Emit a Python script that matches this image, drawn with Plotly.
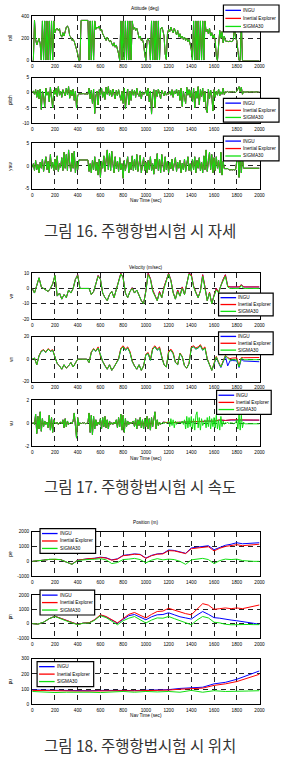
import plotly.graph_objects as go

W, H = 286, 772

# ---------------- time grids (sampling of the logged data) ----------------
t10 = list(range(0, 2001, 10))
t20 = list(range(0, 2001, 20))
t50 = list(range(0, 2001, 50))
t100 = list(range(0, 2001, 100))
x_ticks = list(range(0, 2001, 200))

series_names = ["INGU", "Inertial Explorer", "SIGMA30"]
series_colors = ["#0000ff", "#ff0000", "#11e011"]

# ---------------- Fig 16: attitude (deg), step 10 s ----------------
roll_sigma = [
    0, 0, 360, 190, 140, 180, 200, 150, 5, 355,
    5, 355, 5, 355, 5, 355, 5, 355, 5, 355,
    250, 280, 290, 270, 285, 230, 210, 250, 220, 260,
    300, 310, 290, 220, 210, 180, 190, 170, 120, 100,
    60, 0, 0, 360, 360, 360, 360, 360, 360, 360,
    5, 355, 5, 355, 5, 355, 280, 300, 290, 310,
    270, 280, 240, 210, 200, 180, 210, 190, 170, 180,
    150, 130, 160, 120, 140, 110, 60, 0, 355, 5,
    355, 5, 355, 5, 355, 5, 355, 5, 355, 280,
    300, 270, 290, 250, 200, 220, 180, 190, 150, 60,
    0, 180, 200, 170, 5, 355, 5, 355, 5, 355,
    5, 355, 5, 280, 300, 270, 220, 60, 10, 240,
    280, 260, 300, 270, 250, 290, 260, 230, 270, 210,
    240, 200, 220, 190, 210, 180, 200, 170, 190, 150,
    100, 5, 355, 5, 355, 5, 355, 5, 355, 5,
    355, 5, 355, 260, 280, 240, 290, 220, 250, 200,
    230, 180, 40, 0, 150, 270, 200, 260, 160, 220,
    175, 170, 172, 170, 175, 170, 172, 190, 300, 200,
    180, 90, 0, 0, 360, 0, 0, 0, 0, 0,
    0, 0, 0, 0, 0, 0, 0, 0, 0, 0,
    0,
]
pitch_sigma = [
    0.2, 0.5, -0.5, 1.0, -1.5, 0.8, -2.0, 1.2, -5.5, 0.5,
    -1.0, -4.8, 1.5, -0.8, 0.3, -3.0, 1.8, -1.2, -5.0, 0.8,
    -0.5, 1.5, -1.2, 2.0, -0.8, 0.5, -1.5, 1.0, -0.3, -1.0,
    1.5, -0.6, 2.0, -1.8, 0.8, -1.0, 1.2, -2.5, 0.5, -5.0,
    -1.0, -0.3, -0.4, -0.3, -0.4, -0.3, -0.4, -0.3, -0.4, -0.5,
    1.5, -2.0, 0.8, -3.5, 1.2, -6.8, -1.0, 0.5, -4.0, 1.0,
    -0.8, 1.5, -1.5, 0.3, -2.2, 1.8, -0.5, 2.0, -1.0, 0.8,
    -1.2, 1.2, -0.5, -2.0, 0.8, -1.0, 1.0, -0.8, -2.5, 0.5,
    -3.5, 1.5, -5.2, -1.0, 1.2, -4.0, 0.5, -2.5, 1.0, -0.8,
    0.8, -1.5, 1.5, -0.5, -1.2, 0.6, -2.0, 0.3, -0.5, -0.3,
    0.8, -1.0, 1.5, -3.0, 0.5, -7.0, -0.5, 1.0, -5.0, 0.8,
    -1.2, 1.2, -0.6, -2.0, 0.8, -0.5, -1.0, 0.5, -0.8, -0.3,
    -0.5, 0.5, -0.8, 1.0, -1.5, 0.6, -0.4, 1.2, -1.0, 0.8,
    -2.5, 1.5, -4.5, 0.5, -1.5, -3.5, 1.8, -0.8, 1.0, -1.5,
    0.8, -3.0, 1.5, -5.0, 0.5, -1.8, 2.0, -4.0, 1.0, -1.2,
    1.5, -3.0, 0.5, -5.5, -6.5, 1.2, -2.0, 0.8, -1.0, -6.0,
    1.0, -1.5, 0.5, -0.8, 1.2, -1.0, 0.3, -0.5, 1.5, -0.6,
    0.3, 0.2, 0.4, 0.1, 0.3, 0.2, 0.4, 0.2, 0.3, 0.1,
    0.5, 1.5, 2.0, 0.3, 1.8, -0.5, 0.4, 0.2, 0.3, 0.2,
    0.3, 0.2, 0.3, 0.2, 0.3, 0.2, 0.3, 0.2, 0.3, 0.2, 0.3,
]
yaw_sigma = [
    -0.3, 0.5, -1.0, 1.2, -0.8, 0.3, -1.5, 0.8, -0.5, 1.5,
    -1.2, 0.5, 2.0, -0.8, 1.0, -1.5, 2.5, -0.5, 0.8, -1.0,
    1.5, -0.8, 2.2, -1.2, 0.6, -0.3, 1.8, -1.0, 3.0, -0.5,
    2.5, -1.0, 3.5, 0.5, -1.2, 2.8, -0.5, 3.2, -1.5, 1.0,
    -0.8, 1.3, 1.3, 1.3, 1.3, 1.3, 1.3, 1.3, 1.3, 1.3,
    -1.2, 0.5, -1.5, 1.2, -0.8, 2.0, -1.0, 0.8, -2.0, 1.5,
    -2.5, 1.0, -0.5, 2.2, -1.2, 1.5, 3.5, -0.8, 2.8, -1.0,
    3.2, 0.5, -1.5, 2.0, -0.6, 1.0, -1.2, 1.8, -0.8, 0.5,
    -2.7, 1.2, -1.0, 0.5, 2.0, -1.5, 0.8, -0.8, 2.2, -1.0,
    1.5, -0.8, 2.5, -1.2, 1.0, 2.3, -1.5, 0.6, 1.8, -1.0,
    0.8, -1.5, 1.2, -0.8, 2.0, -1.0, 0.5, -1.8, 1.5, -0.6,
    2.7, -1.0, 1.5, -1.5, 2.5, 0.3, -1.2, 2.0, -0.8, 1.0,
    -1.5, 0.8, -0.6, 1.5, -1.0, 0.5, 1.8, -1.2, 0.8, -0.5,
    1.2, -1.5, 0.6, -0.8, 1.5, -1.2, 0.8, 2.0, -1.0, 0.5,
    -1.2, 1.5, -0.8, 2.0, -1.5, 1.2, -0.5, 1.8, -1.0, 0.8,
    -1.5, 2.2, -0.8, 3.5, -1.2, 1.5, 3.0, -0.8, 2.5, -1.5,
    1.8, -1.0, 2.0, -0.5, 1.2, -1.5, 3.0, -2.0, 1.0, -0.6,
    -0.6, -0.5, -0.6, -0.8, -0.9, -0.8, -0.9, -0.8, -0.9, -0.8,
    1.5, 3.0, -2.5, 2.5, -1.5, 1.8, -0.5, -0.5, -0.5, -0.5,
    -0.5, -0.5, -0.5, -0.5, -0.5, -0.5, -0.5, -0.5, -0.5, -0.5, -0.5,
]
# the three solutions overlap in attitude
roll_ingu, roll_ie = roll_sigma, roll_sigma
pitch_ingu, pitch_ie = pitch_sigma, pitch_sigma
yaw_ingu, yaw_ie = yaw_sigma, yaw_sigma

# ---------------- Fig 17: velocity (m/s) ----------------
ve_sigma = [  # step 20 s
    0, -3, 2, 7, 1, 0, -1, -2, 0, 3,
    8.5, -5, -3, -7, -4, -6, -1, -3, 0, 6,
    8.5, 0, 0, 0, 0, 0, -4, -2, 3, 8,
    6, -3, -6, -8, -4, -2, -6, -1, 4, 9.5,
    7, -3, -6, -2, 0, -3, -1, -5, -8, -10,
    -2, 9, 6, -2, -5, -8, -3, -6, 0, 5,
    9.5, 5, -3, -7, -2, -5, 0, -4, 2, 9.5,
    8, 1, -3, -6, -2, 8, 0, -8, -3, -10,
    -5, -1, -3, 2, 5, 8, 1, 0, 0, 0,
    0, 0, 2, 0, 0, 0, 0, 0, 0, 0,
    0,
]
ve_ie = [
    0, -3, 2, 7, 1, 0, -1, -2, 0, 3,
    8.5, -5, -3, -7, -4, -6, -1, -3, 0, 6,
    9, 0, 0, 0, 0, 0, -4, -2, 3, 8.5,
    6, -3, -6, -8, -4, -2, -6, -1, 4.5, 10,
    7, -3, -6, -2, 0.5, -3, -1, -5, -8, -10,
    -1.5, 10, 6.5, -1, -5, -8, -2, -6, 1, 5.5,
    10, 5.5, -2.5, -7, -1, -5, 1, -4, 2.5, 10,
    9, 1.5, -2.5, -6, -1.5, 9, 1, -8, -2.5, -10,
    -4.5, 0, -2.5, 2.5, 6, 9, 1.5, 1, 1, 1,
    1, 1, 2.5, 1, 1, 1, 1, 1, 1, 1,
    1,
]
ve_ingu = ve_ie

vn_sigma = [  # step 20 s
    0, 1, -5, 3, 7, 8, 6, 9, 7, 8,
    2, -4, -6, -9, -5, -8, -6, -3, -7, -4,
    0, 0, 0, 0, 0, -3, 6, 9, 7, 10,
    3, -2, -6, -9, -5, -10, -7, -3, 0, 9,
    11, 8, 10, 6, -2, -6, -9, -5, -10, -6,
    4, 5, -1, 9, 11, 8, 10, 2, -5, -7,
    6, 8, 5, -3, -5, 5, 2, -6, -8, -4,
    10, 11, 9, 10, 12, 8, 10, 0, -6, -10,
    -4, 2, -3, -7, -2, 3, 1, -1, -0.5, -0.3,
    -0.5, -7, 1, -0.5, -0.5, -0.5, -0.5, -0.5, -0.5, -0.5,
    -0.5,
]
vn_ie = [
    0, 1, -5, 3, 7.5, 8.5, 6.5, 9.5, 7.5, 8.5,
    2, -4, -6, -9, -5, -8, -6, -3, -7, -4,
    0, 0, 0, 0, 0, -3, 6.5, 9.5, 7.5, 11,
    3, -2, -6, -9, -5, -10, -7, -3, 0.5, 10,
    12, 9, 11, 7, -1.5, -6, -9, -5, -10, -6,
    4.5, 6, -0.5, 10, 12, 9, 11, 2.5, -5, -7,
    7, 9, 6, -2.5, -5, 5.5, 2.5, -6, -8, -3.5,
    11, 12, 10, 11, 13, 9, 11, 0.5, -5.5, -10,
    -3.5, 2.5, -2.5, -7, -1.5, 3.5, 1.5, 0.5, 1, 1.2,
    1.2, -6, 1.5, 1.3, 1.3, 1.4, 1.4, 1.5, 1.5, 1.5,
    1.5,
]
vn_ingu_tail = [  # t = 1600 .. 2000, step 20 s
    -4.5, 1.5, -3.5, -7.5, -2.5, 2.5, -6, -1.5, -1.2, -1.3,
    -1.5, -7.5, 0, -1.6, -1.7, -1.8, -1.9, -2.0, -2.1, -2.2,
    -2.3,
]
vn_ingu = vn_sigma[:80] + vn_ingu_tail

vu_sigma = [  # step 10 s
    0, 0.05, -0.1, 0.8, -0.9, 0.6, -0.5, 1.0, -0.7, 0.4,
    -0.3, 0.2, -0.1, 0.1, -0.4, 0.7, -0.6, 0.5, -0.8, 0.3,
    0.05, -0.05, 0.1, -0.1, 0.05, 0.1, -0.05, 0.3, -0.4, 0.4,
    -0.3, 0.2, -0.1, 0.05, 0.1, -0.05, 0.2, 0.9, -0.6, -1.3,
    0.5, -0.2, 0.05, -0.05, 0.05, 0, 0.05, -0.05, 0, 0.05,
    0.9, -0.8, 0.7, -1.0, 0.6, -0.5, 0.3, -0.2, 0.1, -0.1,
    0.4, -0.5, 0.5, -0.3, 0.6, -0.4, 0.3, -0.5, 0.2, -0.1,
    0.05, -0.1, 0.1, -0.05, 0.3, -0.4, 0.5, -0.3, 0.8, -0.6,
    0.7, -0.8, 0.4, -0.3, 0.2, -0.1, 0.1, -0.05, 0.1, 0.2,
    -0.3, 0.4, -0.5, 0.3, -0.2, 0.5, -0.4, 0.3, -0.5, 0.4,
    -0.3, 0.6, -0.5, 0.4, -0.6, 0.5, -0.3, 0.4, 1.0, -0.5,
    0.3, -0.2, 0.1, -0.1, 0.05, 0.1, -0.05, 0.1, 0, 0.05,
    0.2, -0.3, 0.4, -0.2, 0.3, -0.4, 0.2, -0.1, 0.1, 0.05,
    0.1, 0, 0.2, -0.1, 0.3, -0.5, 0.6, -0.4, 0.5, -0.3,
    0.6, -0.5, 0.4, -0.6, 0.7, 1.0, -0.4, 0.5, -0.6, 0.4,
    -0.2, 0.1, 0.3, -0.4, 0.5, -0.3, 0.6, -0.5, 0.4, -0.3,
    0.5, -0.4, 0.7, -0.5, 0.3, -0.6, 0.6, -0.3, 0.2, -0.1,
    0.05, 0, 0.1, -0.05, 0.05, 0, 0.05, -0.05, 0, 0.05,
    0.3, -0.5, 0.8, -0.6, 0.7, -0.4, 0.1, -0.05, -0.05, -0.05,
    -0.05, -0.05, -0.05, -0.05, -0.05, -0.05, -0.05, -0.05, -0.05, -0.05, -0.05,
]
vu_drift_t = [1200, 1250, 1300, 1350, 1400, 1450, 1500, 1550, 1600,
              1650, 1700, 1750, 1800, 1850, 1900, 1950, 2000]
vu_ie_tail = [0.05, 0.06, 0.08, 0.1, 0.12, 0.15, 0.17, 0.2, 0.18,
              0.3, 0.25, 0.3, 0.28, 0.26, 0.3, 0.28, 0.28]
vu_ingu_tail = [0.04, 0.05, 0.07, 0.09, 0.11, 0.14, 0.16, 0.19, 0.17,
                0.27, 0.24, 0.28, 0.27, 0.25, 0.28, 0.27, 0.27]
vu_t_drift = t10[:116] + vu_drift_t
vu_ie = vu_sigma[:116] + vu_ie_tail
vu_ingu = vu_sigma[:116] + vu_ingu_tail

# ---------------- Fig 18: position (m), step 50 s / 100 s ----------------
pe_ingu = [
    0, 20, 80, 130, 150, 120, -50, -190, 80, 150,
    180, 210, 280, 240, 100, 170, 400, 450, 500, 470,
    220, 400, 500, 530, 760, 730, 620, 540, 900, 950,
    1000, 1050, 780, 950, 1080, 1150, 1250, 1180, 1200, 1230,
    1250,
]
pe_ie = [
    0, 20, 80, 130, 150, 120, -50, -190, 80, 150,
    180, 200, 260, 220, 80, 150, 380, 420, 480, 450,
    200, 380, 480, 500, 720, 700, 600, 520, 850, 900,
    950, 980, 700, 880, 1000, 1050, 1120, 1050, 1080, 1120,
    1150,
]
pe_sigma = [
    0, 20, 80, 130, 150, 110, -60, -200, 60, 120,
    130, 140, 180, 100, -150, -80, 120, 150, 200, 120,
    -100, 80, 180, 100, 150, 120, 0, -200, 100, 150,
    200, 120, -150, 50, 150, 120, 150, 50, 0, 0,
    0,
]
pn_ingu = [
    0, -40, 100, 350, 520, 380, 200, 60, -60, 40,
    60, 270, 600, 470, 270, 30, 300, 560, 640, 450,
    270, 480, 620, 640, 760, 620, 480, 400, 320, 600,
    850, 650, 420, 380, 300, 250, 200, 150, 80, 20,
    -60,
]
pn_ie = [
    0, -40, 100, 350, 520, 380, 200, 60, -60, 40,
    60, 280, 620, 500, 300, 50, 350, 650, 780, 600,
    400, 650, 850, 880, 1080, 950, 800, 700, 620, 1000,
    1400, 1300, 1000, 1050, 1100, 1050, 1100, 1050, 1150, 1250,
    1310,
]
pn_sigma = [
    0, -40, 100, 350, 500, 370, 190, 50, -70, 30,
    40, 240, 560, 420, 200, -80, 200, 380, 500, 250,
    40, 250, 400, 380, 500, 350, 200, 50, -80, 250,
    500, 400, 100, 50, -50, -80, -60, -50, -60, -70,
    -70,
]
pu_ingu = [95, 93, 92, 92, 90, 90, 92, 90, 92, 91, 92,
           93, 97, 105, 110, 113, 135, 145, 165, 190, 220]
pu_ie = [92, 90, 88, 89, 88, 88, 90, 88, 90, 89, 90,
         91, 94, 100, 105, 107, 125, 135, 150, 172, 198]
pu_sigma = [85, 80, 78, 80, 82, 80, 78, 82, 85, 80, 85,
            82, 85, 80, 92, 80, 90, 85, 85, 88, 90]

# ---------------- panel layout ----------------
panels = [
    dict(top=14, bot=59, rng=[0, 400], ticks=[0, 200, 400], label="roll",
         data=[(t10, roll_ingu), (t10, roll_ie), (t10, roll_sigma)],
         legend=(228, 3, 285, 30)),
    dict(top=76, bot=122, rng=[-10, 5], ticks=[-10, -5, 0, 5], label="pitch",
         data=[(t10, pitch_ingu), (t10, pitch_ie), (t10, pitch_sigma)],
         legend=(228, 97, 285, 121)),
    dict(top=142, bot=188, rng=[-5, 5], ticks=[-5, 0, 5], label="yaw",
         data=[(t10, yaw_ingu), (t10, yaw_ie), (t10, yaw_sigma)],
         legend=(228, 135, 285, 160)),
    dict(top=273, bot=319, rng=[-20, 10], ticks=[-20, -10, 0, 10], label="ve",
         data=[(t20, ve_ingu), (t20, ve_ie), (t20, ve_sigma)],
         legend=(223, 293, 279, 316)),
    dict(top=337, bot=382, rng=[-20, 20], ticks=[-20, 0, 20], label="vn",
         data=[(t20, vn_ingu), (t20, vn_ie), (t20, vn_sigma)],
         legend=(223, 332, 279, 355)),
    dict(top=401, bot=447, rng=[-2, 2], ticks=[-2, 0, 2], label="vu",
         data=[(vu_t_drift, vu_ingu), (vu_t_drift, vu_ie), (t10, vu_sigma)],
         legend=(221, 391, 277, 415)),
    dict(top=533, bot=578, rng=[-1000, 2000], ticks=[-1000, 0, 1000, 2000], label="pe",
         data=[(t50, pe_ingu), (t50, pe_ie), (t50, pe_sigma)],
         legend=(40, 530, 97, 555)),
    dict(top=597, bot=640, rng=[-1000, 2000], ticks=[-1000, 0, 1000, 2000], label="pn",
         data=[(t50, pn_ingu), (t50, pn_ie), (t50, pn_sigma)],
         legend=(40, 592, 96, 617)),
    dict(top=661, bot=707, rng=[0, 300], ticks=[0, 100, 200, 300], label="pu",
         data=[(t100, pu_ingu), (t100, pu_ie), (t100, pu_sigma)],
         legend=(37, 664, 95, 689)),
]

titles = [("Attitude (deg)", 7), ("Velocity (m/sec)", 267), ("Position (m)", 524)]
xlabels = [200, 459, 718]
captions = [("그림 16. 주행항법시험 시 자세", 229.5),
            ("그림 17. 주행항법시험 시 속도", 487),
            ("그림 18. 주행항법시험 시 위치", 748)]

SMALL = dict(family="Liberation Sans, Arial", size=4.7, color="#000")
X0, X1 = 32, 265


def fx(px):
    return px / W


def fy(py):
    return 1 - py / H


def note(x, y, text, font, **kw):
    d = dict(x=fx(x), y=fy(y), xref="paper", yref="paper", text=text, showarrow=False,
             xanchor="center", yanchor="middle", font=font, borderpad=0)
    d.update(kw)
    return d


fig = go.Figure()
layout = dict(width=W, height=H, margin=dict(l=0, r=0, t=0, b=0),
              paper_bgcolor="white", plot_bgcolor="white", showlegend=False)
shapes, annotations = [], []

for i, p in enumerate(panels, start=1):
    xa = "x" if i == 1 else f"x{i}"
    ya = "y" if i == 1 else f"y{i}"
    for (tt, vv), col in zip(p["data"], series_colors):
        fig.add_trace(go.Scatter(x=tt[:len(vv)], y=vv, mode="lines",
                                 line=dict(color=col, width=1),
                                 xaxis=xa, yaxis=ya, hoverinfo="skip"))
    common = dict(showgrid=True, gridcolor="#222", griddash="5px,4px", gridwidth=0.8,
                  showline=True, linecolor="#000", linewidth=1.2, mirror=True,
                  ticks="", zeroline=False, tickfont=SMALL, fixedrange=True,
                  ticklabelstandoff=1)
    layout["xaxis" if i == 1 else f"xaxis{i}"] = dict(
        domain=[fx(X0), fx(X1)], range=[0, 2000], anchor=ya,
        tickvals=x_ticks, ticktext=[str(v) for v in x_ticks], **common)
    layout["yaxis" if i == 1 else f"yaxis{i}"] = dict(
        domain=[fy(p["bot"]), fy(p["top"])], range=p["rng"], anchor=xa,
        tickvals=p["ticks"], ticktext=[str(v) for v in p["ticks"]], **common)
    # axis label
    annotations.append(note(10, (p["top"] + p["bot"]) / 2, p["label"], SMALL, textangle=-90))
    # legend box drawn as shapes
    lx0, ly0, lx1, ly1 = p["legend"]
    shapes.append(dict(type="rect", xref="paper", yref="paper", x0=fx(lx0), x1=fx(lx1),
                       y0=fy(ly1), y1=fy(ly0), line=dict(color="#000", width=1.2),
                       fillcolor="white", layer="above"))
    hh = ly1 - ly0
    for frac, name, col in zip((0.2, 0.5, 0.8), series_names, series_colors):
        yy = ly0 + frac * hh
        shapes.append(dict(type="line", xref="paper", yref="paper", x0=fx(lx0 + 2), x1=fx(lx0 + 18),
                           y0=fy(yy), y1=fy(yy), line=dict(color=col, width=1.3), layer="above"))
        annotations.append(note(lx0 + 19, yy, name, SMALL, xanchor="left"))

for text, py in titles:
    annotations.append(note((X0 + X1) / 2, py, text, SMALL))
for py in xlabels:
    annotations.append(note((X0 + X1) / 2, py, "Nav Time (sec)", SMALL))
for text, py in captions:
    annotations.append(note(142, py, text,
                            dict(family="Noto Sans CJK KR", size=15.5, color="#333")))

layout["shapes"] = shapes
layout["annotations"] = annotations
fig.update_layout(**layout)
fig.write_html("out.html")
